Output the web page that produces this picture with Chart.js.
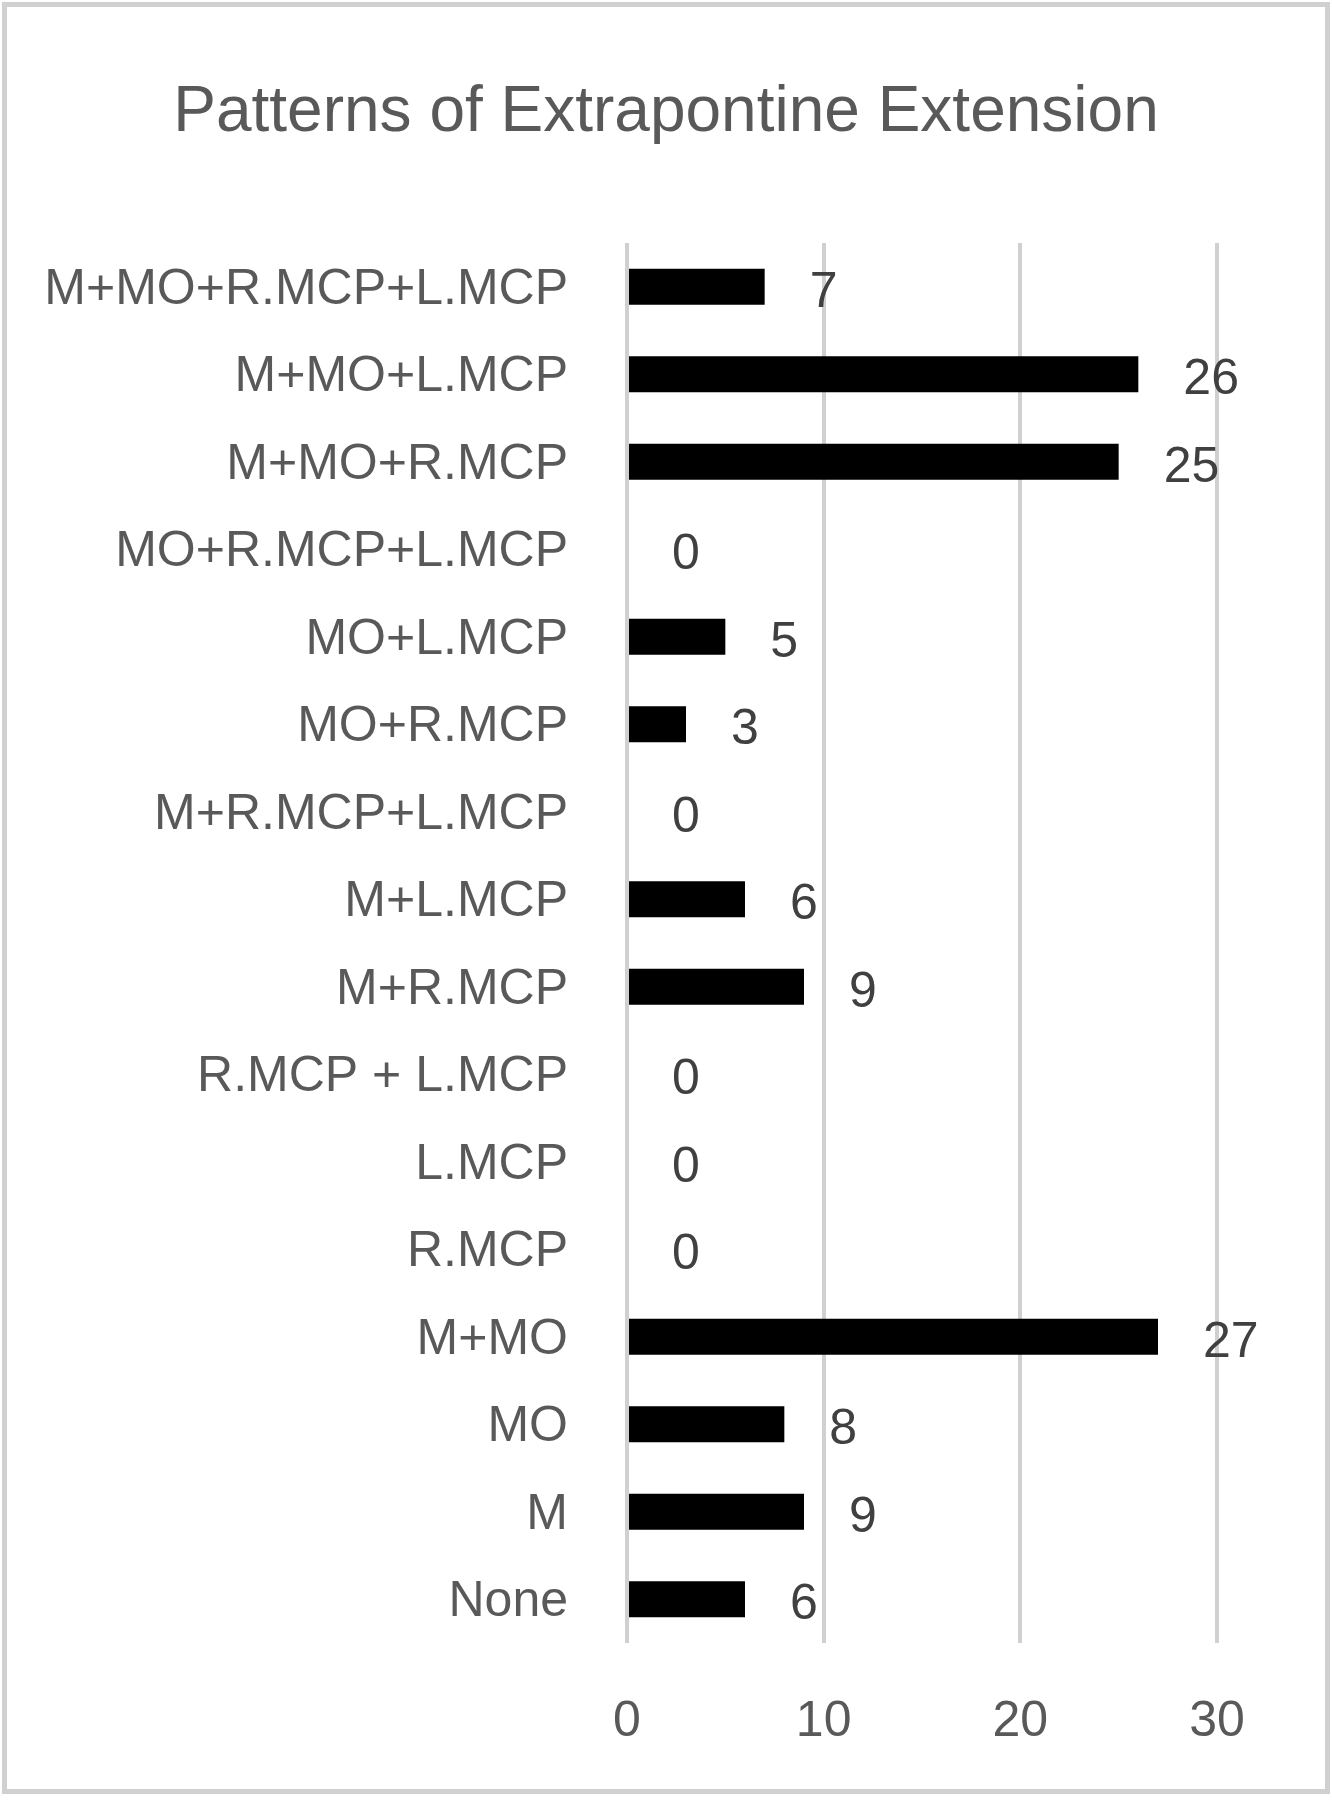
<!DOCTYPE html>
<html>
<head>
<meta charset="utf-8">
<script src="https://cdn.jsdelivr.net/npm/chart.js@4.4.1/dist/chart.umd.min.js"></script>
<style>
  html, body { margin: 0; padding: 0; background: #fff; }
  #wrap { width: 1332px; height: 1800px; position: relative; }
</style>
</head>
<body>
<div id="wrap"><canvas id="barChart" width="1332" height="1800"></canvas></div>
<script>
// Chart data
const categories = [
    "M+MO+R.MCP+L.MCP", "M+MO+L.MCP", "M+MO+R.MCP", "MO+R.MCP+L.MCP",
    "MO+L.MCP", "MO+R.MCP", "M+R.MCP+L.MCP", "M+L.MCP", "M+R.MCP",
    "R.MCP + L.MCP", "L.MCP", "R.MCP", "M+MO", "MO", "M", "None"
];
const counts = [7, 26, 25, 0, 5, 3, 0, 6, 9, 0, 0, 0, 27, 8, 9, 6];
const xTicks = [0, 10, 20, 30];
const chartTitle = 'Patterns of Extrapontine Extension';

const fontFamily = "'Liberation Sans', Arial, sans-serif";
const textGray = '#595959';

// Title centred on the whole canvas (built-in title would centre on the padded box)
const titlePlugin = {
    id: 'centredTitle',
    afterDraw(chart) {
        const ctx = chart.ctx;
        ctx.save();
        ctx.font = '64px ' + fontFamily;
        ctx.fillStyle = textGray;
        ctx.textAlign = 'center';
        ctx.textBaseline = 'middle';
        ctx.fillText(chartTitle, chart.width / 2, 113);
        ctx.restore();
    }
};

// Draws the count next to the end of every bar
const valueLabels = {
    id: 'valueLabels',
    afterDatasetsDraw(chart) {
        const ctx = chart.ctx;
        const meta = chart.getDatasetMeta(0);
        ctx.save();
        ctx.font = '50px ' + fontFamily;
        ctx.fillStyle = '#404040';
        ctx.textAlign = 'left';
        ctx.textBaseline = 'middle';
        meta.data.forEach(function(bar, i) {
            ctx.fillText(String(counts[i]), bar.x + 45, bar.y + 6);
        });
        ctx.restore();
    }
};

// Light frame round the whole chart
const frame = {
    id: 'frame',
    afterDraw(chart) {
        const ctx = chart.ctx;
        ctx.save();
        ctx.strokeStyle = '#d0d0d0';
        ctx.lineWidth = 5;
        ctx.strokeRect(4.5, 4.5, chart.width - 9, chart.height - 13);
        ctx.restore();
    }
};

document.addEventListener("DOMContentLoaded", function() {
    const ctx = document.getElementById('barChart').getContext('2d');
    new Chart(ctx, {
        type: 'bar',
        data: {
            labels: categories,
            datasets: [{
                data: counts,
                backgroundColor: '#000000',
                barPercentage: 0.41,
                categoryPercentage: 1.0
            }]
        },
        options: {
            indexAxis: 'y',
            responsive: false,
            animation: false,
            layout: { padding: { left: 0, right: 115, top: 243, bottom: 0 } },
            plugins: {
                legend: { display: false },
                tooltip: { enabled: false },
                title: { display: false }
            },
            scales: {
                x: {
                    min: 0,
                    max: 30,
                    afterBuildTicks: function(scale) {
                        scale.ticks = xTicks.map(v => ({ value: v }));
                    },
                    afterFit: function(scale) { scale.height = 157; },
                    grid: { color: '#d0d0d0', lineWidth: 4, drawTicks: false },
                    border: { display: false },
                    ticks: {
                        color: textGray,
                        padding: 49,
                        font: { family: fontFamily, size: 50 }
                    }
                },
                y: {
                    afterFit: function(scale) { scale.width = 627; },
                    grid: { display: false, drawTicks: false },
                    border: { display: false },
                    ticks: {
                        color: textGray,
                        padding: 59,
                        labelOffset: 3,
                        autoSkip: false,
                        font: { family: fontFamily, size: 50 }
                    }
                }
            }
        },
        plugins: [valueLabels, titlePlugin, frame]
    });
});
</script>
</body>
</html>
